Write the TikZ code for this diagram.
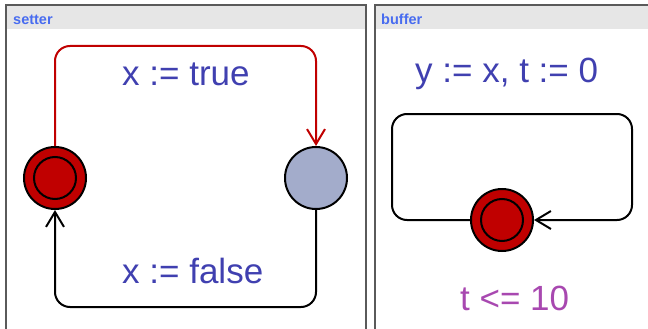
\documentclass[tikz,border=0pt]{standalone}
\usepackage{fontspec}
\setmainfont{Liberation Sans}
\usetikzlibrary{arrows.meta}
\definecolor{locred}{RGB}{192,0,0}
\definecolor{locgray}{RGB}{163,172,203}
\definecolor{lblblue}{RGB}{64,64,176}
\definecolor{invpurple}{RGB}{168,72,176}
\definecolor{hdrblue}{RGB}{72,108,240}
\definecolor{hdrgray}{RGB}{230,230,230}
\definecolor{bordergray}{RGB}{90,90,90}
\begin{document}
\begin{tikzpicture}[x=1pt,y=-1pt,
  loc/.style={circle,draw=black,line width=2pt,minimum size=62pt,inner sep=0pt},
  initin/.style={circle,draw=black,line width=2pt,minimum size=42pt,inner sep=0pt},
  edgeline/.style={line width=2pt,rounded corners=15pt,-{Straight Barb[length=15pt,width=18pt,line width=2pt]}},
  lbl/.style={text=lblblue,font=\fontsize{35}{40}\selectfont,inner sep=0pt,anchor=base west},
  hdr/.style={text=hdrblue,font=\fontsize{14.5}{17}\selectfont\bfseries,inner sep=0pt,anchor=base west},
  panel/.style={draw=bordergray,line width=1.3pt}]
\useasboundingbox (0,0) rectangle (648,329);
% panels
\fill[hdrgray] (6,5) rectangle (366,29);
\fill[hdrgray] (375,5) rectangle (648,29);
\draw[panel] (6,335) -- (6,5) -- (366,5) -- (366,335);
\draw[panel] (375,335) -- (375,5) -- (650,5);
\node[hdr] (hsetter) at (13,25) {setter};
\node[hdr] (hbuffer) at (381,25) {buffer};
% setter
\node[loc,fill=locred] (L) at (55,178) {};
\node[initin,fill=locred] (Lin) at (55,178) {};
\node[loc,fill=locgray] (R) at (316,178) {};
\coordinate (topy) at (0,46);
\coordinate (boty) at (0,307);
\draw[edgeline,draw=locred,-{Straight Barb[length=15pt,width=18pt,line width=2pt,color=locred]}]
  (L.north) -- (L.north |- topy) -- (R.north |- topy) -- (R.north);
\draw[edgeline,draw=black]
  (R.south) -- (R.south |- boty) -- (L.south |- boty) -- (L.south);
\node[lbl] (ltrue) at (122,85) {x := true};
\node[lbl] (lfalse) at (122,283) {x := false};
% buffer
\node[loc,fill=locred] (B) at (502,220) {};
\node[initin,fill=locred] (Bin) at (502,220) {};
\coordinate (bl) at (392,114);
\coordinate (br) at (632,114);
\draw[edgeline,draw=black]
  (B.west) -- (bl |- B.west) -- (bl) -- (br) -- (br |- B.east) -- (B.east);
\node[lbl] (lupd) at (415,83) {y := x, t := 0};
\node[lbl,text=invpurple] (linv) at (460,310) {t <= 10};
\end{tikzpicture}
\end{document}
